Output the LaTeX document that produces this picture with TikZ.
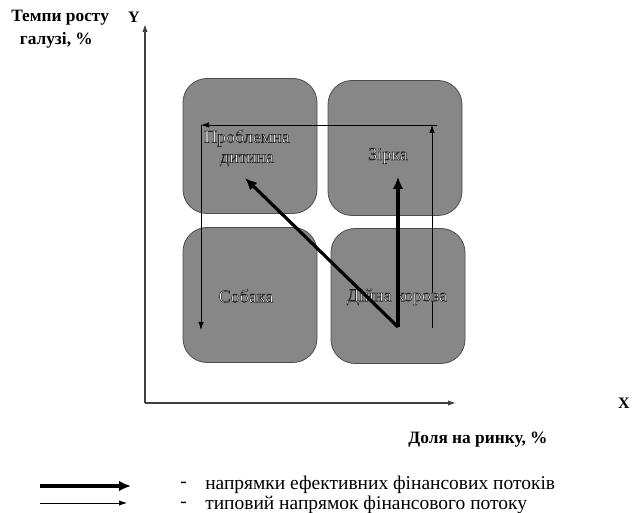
\documentclass[tikz,border=0pt]{standalone}
\usepackage{fontspec}
\setmainfont{Liberation Serif}
\usetikzlibrary{arrows.meta}
\newcommand{\outlinetext}[1]{\special{pdf:code 0.15 0.15 0.15 RG 0.4 w 2 Tr}#1\special{pdf:code 0 Tr}}
\tikzset{
  quad/.style={draw=black!70, line width=0.6pt, fill=black!47, rounded corners=18, minimum width=134*0.75pt, minimum height=135*0.75pt, inner sep=0pt},
  qlabel/.style={font=\fontsize{13.5}{15}\selectfont, align=center, text=white, inner sep=0pt},
  axis/.style={draw=black!75, line width=0.9pt, -{Latex[length=6pt,width=4pt]}},
  thinflow/.style={draw=black, line width=0.5pt, -{Latex[length=6pt,width=4pt]}},
  thickflow/.style={draw=black, line width=2.4pt, -{Latex[length=9pt,width=8pt]}},
  axlabel/.style={font=\fontsize{13}{17}\selectfont\bfseries, align=left},
  xylabel/.style={font=\fontsize{12}{13}\selectfont\bfseries},
  legtext/.style={font=\fontsize{14.6}{16}\selectfont, anchor=west, inner sep=0pt},
}
\begin{document}
\begin{tikzpicture}[x=0.75pt, y=-0.75pt]
\useasboundingbox (0,0) rectangle (633,513);
% axes
\coordinate (O) at (145,403);
\coordinate (Ytop) at (145,24);
\coordinate (Xend) at (456,403);
\draw[axis] (O) -- (Ytop);
\draw[axis] (O) -- (Xend);
\node[xylabel] (Y) at (134,17) {Y};
\node[xylabel] (X) at (624,403) {X};
\node[axlabel, anchor=north west, inner sep=0pt] (ylab) at (11,10) {Темпи росту\\\ \ галузі, \%};
\node[axlabel] (xlab) at (478,440) {Доля на ринку, \%};
% quadrants
\node[quad] (PD) at (250,146) {};
\node[quad] (ZR) at (395,148) {};
\node[quad] (SB) at (250,295) {};
\node[quad] (DK) at (398,296) {};
% thin flows
\coordinate (r1) at (432,328);
\coordinate (r2) at (432,125);
\coordinate (l1) at (437,125);
\coordinate (l2) at (201,125);
\coordinate (d1) at (201,125);
\coordinate (d2) at (201,330);
\draw[thinflow] (r1) -- (r2);
\draw[thinflow] (l1) -- (l2);
\draw[thinflow] (d1) -- (d2);
% labels
\node[qlabel] (tPD) at (247,148) {\outlinetext{Проблемна}\\\outlinetext{дитина}};
\node[qlabel] (tZR) at (388,156) {\outlinetext{Зірка}};
\node[qlabel] (tSB) at (246,296) {\outlinetext{Собака}};
\node[qlabel] (tDK) at (397,297) {\outlinetext{Дійна корова}};
% thick flows
\coordinate (c0) at (398,327);
\coordinate (c1) at (245,178);
\coordinate (c2) at (398,177);
\draw[thickflow] (c0) -- (c1);
\draw[thickflow] (c0) -- (c2);
% legend
\coordinate (L1a) at (40,486);
\coordinate (L1b) at (131,486);
\coordinate (L2a) at (40,503);
\coordinate (L2b) at (127,503);
\draw[thickflow] (L1a) -- (L1b);
\draw[thinflow] (L2a) -- (L2b);
\node[legtext] (dash1) at (180,485) {-};
\node[legtext] (leg1) at (205,485) {напрямки ефективних фінансових потоків};
\node[legtext] (dash2) at (180,505) {-};
\node[legtext] (leg2) at (205,505) {типовий напрямок фінансового потоку};
\end{tikzpicture}
\end{document}
